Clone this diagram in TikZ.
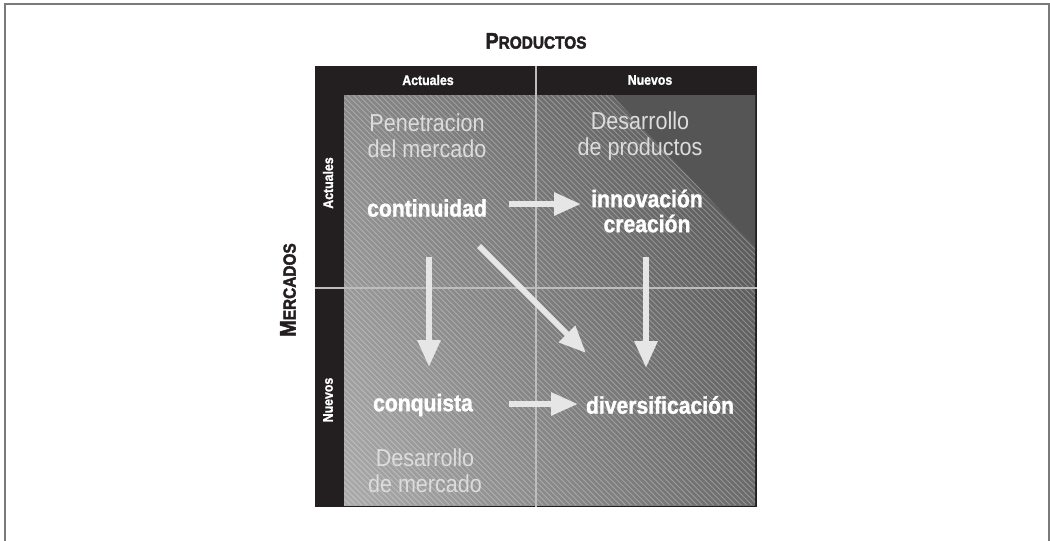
\documentclass[tikz,border=0pt]{standalone}
\usepackage{fontspec}
\newfontfamily\cf{Liberation Sans}[FakeStretch=0.88, BoldFeatures={FakeBold=1.3}]
\newfontfamily\cfheavy{Liberation Sans}[FakeStretch=0.88, BoldFeatures={FakeBold=2.2}]
\usetikzlibrary{arrows.meta,shadings}
\definecolor{frameblack}{HTML}{231F20}
\definecolor{bordergray}{HTML}{7A7A7A}
\definecolor{divgray}{HTML}{BDBDBD}
\definecolor{arrowgray}{HTML}{E6E6E6}
\definecolor{labelgray}{HTML}{DCDCDC}
\definecolor{shLL}{HTML}{ABABAB}
\definecolor{shUL}{HTML}{898989}
\definecolor{shLR}{HTML}{6A6A6A}
\definecolor{shUR}{HTML}{545454}
\definecolor{cornerdark}{HTML}{555556}
\tikzset{
  hatch/.style={draw=white, draw opacity=0.28, line width=0.8pt},
  divider/.style={draw=divgray, line width=1.2pt},
  bigarrow/.style={draw=arrowgray, line width=6pt, -{Triangle[length=27pt,width=22pt]}},
  headtxt/.style={text=white, font=\cf\bfseries\fontsize{14}{16}\selectfont},
  quadtxt/.style={text=labelgray, align=center, font=\cf\fontsize{24.5}{26}\selectfont},
  boldtxt/.style={text=white, align=center, font=\cf\bfseries\fontsize{24}{25}\selectfont},
  axistxt/.style={text=frameblack, font=\cfheavy\bfseries}
}
\begin{document}
\begin{tikzpicture}[x=1pt,y=-1pt]
\useasboundingbox (0,0) rectangle (1050,541);
\draw[bordergray, line width=1.5pt] (5,4) rectangle (1049,560);
% frame
\fill[frameblack] (315,66) rectangle (757,507);
\shade[lower left=shLL, upper left=shUL, lower right=shLR, upper right=shUR] (344,95) rectangle (755,505);
\fill[cornerdark] (612,95) -- (755,95) -- (755,247) -- cycle;
\begin{scope}
\clip (344,95) -- (612,95) -- (755,247) -- (755,505) -- (344,505) -- cycle;
\foreach \i in {0,...,152} \draw[hatch] ({344-420+\i*5.5},95) -- ++(420,420);
\end{scope}
\draw[divider] (536,66) -- (536,507);
\draw[divider] (315,288) -- (757,288);
% axis titles
\node[axistxt] (prod) at (536,41) {\fontsize{22.5}{22}\selectfont P\fontsize{17.5}{17}\selectfont RODUCTOS};
\node[axistxt, rotate=90] (merc) at (288,290) {\fontsize{22.5}{22}\selectfont M\fontsize{17.5}{17}\selectfont ERCADOS};
% headers
\node[headtxt] (hca) at (428,80) {Actuales};
\node[headtxt] (hcn) at (650,80) {Nuevos};
\node[headtxt, rotate=90] (hra) at (328,183) {Actuales};
\node[headtxt, rotate=90] (hrn) at (328,400) {Nuevos};
% quadrant labels
\node[quadtxt] (q1) at (427,136) {Penetracion\\del mercado};
\node[quadtxt] (q2) at (640,136) {Desarrollo\\de productos};
\node[quadtxt] (q3) at (425,471) {Desarrollo\\de mercado};
% strategies
\node[boldtxt] (cont) at (427,208) {continuidad};
\node[boldtxt] (inno) at (647,211) {innovación\\creación};
\node[boldtxt] (conq) at (423,405) {conquista};
\node[boldtxt] (dive) at (660,405) {diversificación};
% arrows
\coordinate (a1s) at (509,204); \coordinate (a1e) at (581,204);
\coordinate (a2s) at (479,246); \coordinate (a2e) at (586,353);
\coordinate (a3s) at (429,257); \coordinate (a3e) at (429,367);
\coordinate (a4s) at (646,257); \coordinate (a4e) at (646,368);
\coordinate (a5s) at (509,404); \coordinate (a5e) at (578,404);
\draw[bigarrow] (a1s) -- (a1e);
\draw[bigarrow] (a2s) -- (a2e);
\draw[bigarrow] (a3s) -- (a3e);
\draw[bigarrow] (a4s) -- (a4e);
\draw[bigarrow] (a5s) -- (a5e);
\end{tikzpicture}
\end{document}
